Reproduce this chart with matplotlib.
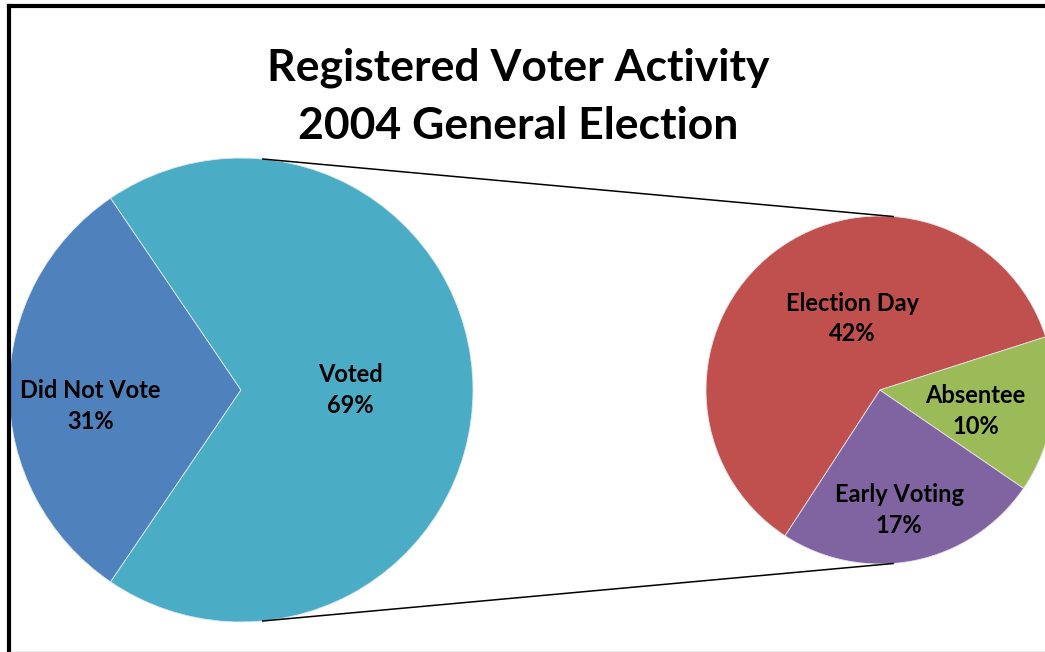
import matplotlib.pyplot as plt
import numpy as np

# Registered voters split, and how the voters cast their ballots
main_labels = ['Did Not Vote', 'Voted']
main_values = [31, 69]
sub_labels = ['Election Day', 'Early Voting', 'Absentee']
sub_values = [42, 17, 10]

main_colors = ['#4F81BD', '#4BACC6']
sub_colors = ['#C0504D', '#8064A2', '#9BBB59']

W, H = 1045, 652
fig = plt.figure(figsize=(W / 100, H / 100), dpi=100)
ax = fig.add_axes([0, 0, 1, 1])
ax.set_aspect('equal')

font = 'Lato'

# big pie on the left, the "Did Not Vote" slice faces left
c1, r1 = (241, H - 390), 232
start1 = 180 - main_values[0] / sum(main_values) * 360 / 2
ax.pie(main_values, colors=main_colors, startangle=start1, center=c1, radius=r1,
       counterclock=True, wedgeprops=dict(edgecolor='#dde8f0', linewidth=0.6),
       frame=True)

# small pie on the right breaks down the "Voted" slice
c2, r2 = (880, H - 390), 174
ax.pie(sub_values, colors=sub_colors, startangle=17.8, center=c2, radius=r2,
       counterclock=True, wedgeprops=dict(edgecolor='#e8e0e8', linewidth=0.6),
       frame=True)
ax.set_xlim(0, W)
ax.set_ylim(0, H)
ax.axis('off')

# labels (offsets in units of the pie radius)
main_pos = [(-0.65, -0.07), (0.47, 0.0)]
for name, v, (dx, dy) in zip(main_labels, main_values, main_pos):
    ax.text(c1[0] + dx * r1, c1[1] + dy * r1, f'{name}\n{v}%', ha='center', va='center',
            fontsize=17, fontweight='bold', family=font, linespacing=1.4)

sub_pos = [(-0.16, 0.41), (0.11, -0.69), (0.55, -0.12)]
for name, v, (dx, dy) in zip(sub_labels, sub_values, sub_pos):
    ax.text(c2[0] + dx * r2, c2[1] + dy * r2, f'{name}\n{v}%', ha='center', va='center',
            fontsize=17, fontweight='bold', family=font, linespacing=1.4)

# connector lines between the two pies
for a1, a2 in [(84.6, 85.7), (-84.6, -85.7)]:
    p1 = (c1[0] + r1 * np.cos(np.radians(a1)), c1[1] + r1 * np.sin(np.radians(a1)))
    p2 = (c2[0] + r2 * np.cos(np.radians(a2)), c2[1] + r2 * np.sin(np.radians(a2)))
    ax.plot([p1[0], p2[0]], [p1[1], p2[1]], color='black', lw=1.1)

ax.text(518, H - 97, 'Registered Voter Activity\n2004 General Election', ha='center',
        va='center', fontsize=32, fontweight='bold', family=font, linespacing=1.55)

# chart border
ax.plot([9, 9], [0, H - 6], color='black', lw=3, solid_capstyle='projecting')
ax.plot([9, W + 5], [H - 6, H - 6], color='black', lw=3, solid_capstyle='projecting')
ax.plot([9, W], [0.5, 0.5], color='#999999', lw=1)

fig.savefig('out.png', dpi=100)
